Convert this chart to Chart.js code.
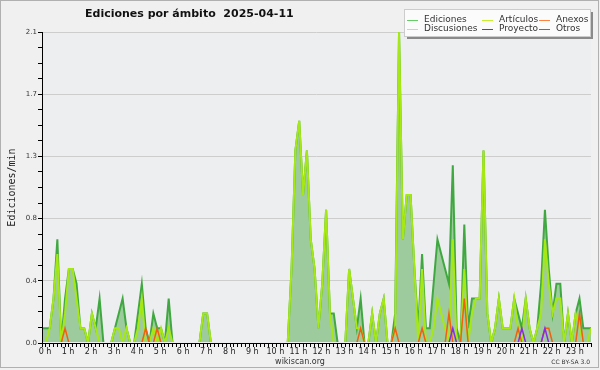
<!DOCTYPE html>
<html>
<head>
<meta charset="utf-8">
<script src="https://cdn.jsdelivr.net/npm/chart.js@4/dist/chart.umd.min.js"></script>
<style>
  html, body { margin: 0; padding: 0; background: #f0f0f0; }
  canvas { display: block; }
</style>
</head>
<body>
<canvas id="ambitoChart" width="600" height="370"></canvas>
<script>
// ediciones/min en tramos de 10 minutos, desde las 0:00
var ediciones = [
  0.1,0.1,0.1,0.3,0.7,0,0.3,0.5,0.5,0.4,0.1,0.1,
  0,0.2,0.1,0.3,0,0,0,0.1,0.2,0.3,0.1,0,
  0,0.2,0.4,0.1,0,0.2,0.1,0.1,0,0.3,0,0,
  0,0,0,0,0,0,0.2,0.2,0,0,0,0,
  0,0,0,0,0,0,0,0,0,0,0,0,
  0,0,0,0,0,0.5,1.3,1.5,1.0,1.3,0.7,0.5,
  0.1,0.4,0.9,0.2,0.2,0,0,0,0.5,0.3,0.1,0.3,
  0,0,0.2,0,0.2,0.3,0,0,0.2,2.1,0.7,1.0,
  1.0,0.5,0.1,0.6,0.1,0.1,0.4,0.7,0.6,0.5,0.4,1.2,
  0.1,0,0.8,0.1,0.3,0.3,0.3,1.3,0.2,0,0.1,0.3,
  0.1,0.1,0.1,0.3,0.2,0.1,0.3,0.1,0,0.1,0.4,0.9,
  0.5,0.2,0.4,0.4,0,0.2,0,0.2,0.3,0.1,0.1,0.1
];
var articulos = [
  0,0,0.1,0.3,0.6,0,0.2,0.5,0.5,0.3,0.1,0.1,
  0,0.2,0.1,0,0,0,0,0.1,0.1,0,0.1,0,
  0,0.1,0.3,0,0,0.1,0,0.1,0,0.1,0,0,
  0,0,0,0,0,0,0.2,0.2,0,0,0,0,
  0,0,0,0,0,0,0,0,0,0,0,0,
  0,0,0,0,0,0.5,1.3,1.5,1.0,1.3,0.7,0.5,
  0.1,0.4,0.9,0.2,0,0,0,0,0.5,0.3,0.1,0.1,
  0,0,0.2,0,0.2,0.3,0,0,0.1,2.1,0.7,1.0,
  1.0,0.5,0,0.5,0,0,0.1,0.3,0.2,0.1,0,0.7,
  0,0,0.5,0,0.2,0.3,0.3,1.3,0.2,0,0.1,0.3,
  0.1,0.1,0.1,0.3,0.1,0,0.3,0.1,0,0.1,0.2,0.7,
  0.4,0.2,0.3,0.3,0,0.2,0,0.2,0.1,0,0,0.1
];
var anexos = [
  0,0,0,0,0,0,0.1,0,0,0,0,0,
  0,0,0,0,0,0,0,0,0,0,0,0,
  0,0,0,0.1,0,0,0.1,0,0,0,0,0,
  0,0,0,0,0,0,0,0,0,0,0,0,
  0,0,0,0,0,0,0,0,0,0,0,0,
  0,0,0,0,0,0,0,0,0,0,0,0,
  0,0,0,0,0,0,0,0,0,0,0,0.1,
  0,0,0,0,0,0,0,0,0.1,0,0,0,
  0,0,0,0.1,0,0,0,0,0,0,0.2,0,
  0,0,0.3,0,0,0,0,0,0,0,0,0,
  0,0,0,0,0.1,0,0,0,0,0,0,0.1,
  0.1,0,0,0,0,0,0,0,0.2,0,0,0
];
var discusiones = [
  0,0,0,0,0,0,0,0,0,0,0,0, 0,0,0,0,0,0,0,0,0,0,0,0,
  0,0,0,0,0,0,0,0,0,0,0,0, 0,0,0,0,0,0,0,0,0,0,0,0,
  0,0,0,0,0,0,0,0,0,0,0,0, 0,0,0,0,0,0,0,0,0,0,0,0,
  0,0,0,0,0,0,0,0,0,0,0,0, 0,0,0,0,0,0,0,0,0,0,0,0,
  0,0,0,0,0,0,0,0,0,0,0,0, 0,0,0,0,0,0,0,0,0,0,0,0,
  0,0,0,0,0,0,0,0,0,0,0,0, 0,0,0,0,0,0,0,0,0,0,0,0
];
var proyecto = [
  0,0,0,0,0,0,0,0,0,0,0,0, 0,0,0,0,0,0,0,0,0,0,0,0,
  0,0,0,0,0,0,0,0,0,0,0,0, 0,0,0,0,0,0,0,0,0,0,0,0,
  0,0,0,0,0,0,0,0,0,0,0,0, 0,0,0,0,0,0,0,0,0,0,0,0,
  0,0,0,0,0,0,0,0,0,0,0,0, 0,0,0,0,0,0,0,0,0,0,0,0,
  0,0,0,0,0,0,0,0,0,0,0,0, 0,0,0,0,0,0,0,0,0,0,0,0,
  0,0,0,0,0,0,0,0,0,0,0,0, 0,0,0,0,0,0,0,0,0,0,0,0
];
var otros = [
  0,0,0,0,0,0,0,0,0,0,0,0, 0,0,0,0,0,0,0,0,0,0,0,0,
  0,0,0,0,0,0,0,0,0,0,0,0, 0,0,0,0,0,0,0,0,0,0,0,0,
  0,0,0,0,0,0,0,0,0,0,0,0, 0,0,0,0,0,0,0,0,0,0,0,0,
  0,0,0,0,0,0,0,0,0,0,0,0, 0,0,0,0,0,0,0,0,0,0,0,0,
  0,0,0,0,0,0,0,0,0,0,0,0.1, 0,0,0,0,0,0,0,0,0,0,0,0,
  0,0,0,0,0,0.1,0,0,0,0,0,0.1, 0,0,0,0,0,0,0,0,0,0,0,0
];
// minuto del día de cada tramo
var minutos = ediciones.map(function(v, i) { return i * 10; });
var yMax = 2.1;

var leyenda = [
  { label: 'Ediciones',   color: '#66cc66', x: 407, y: 19.5 },
  { label: 'Artículos',   color: '#c8ee30', x: 482, y: 19.5 },
  { label: 'Anexos',      color: '#ff8040', x: 539, y: 19.5 },
  { label: 'Discusiones', color: '#ffd040', x: 407, y: 29 },
  { label: 'Proyecto',    color: '#555555', x: 482, y: 29 },
  { label: 'Otros',       color: '#9040ff', x: 539, y: 29 }
];

// recorte: las lineas en cero quedan bajo el eje
var recorte = { left: 0, top: 2, right: 0, bottom: -1 };

var decorado = {
  id: 'decorado',
  beforeDraw: function(chart) {
    var c = chart.ctx, a = chart.chartArea;
    c.save();
    c.fillStyle = '#f0f0f0';
    c.fillRect(0, 0, chart.width, chart.height);
    c.strokeStyle = '#b0b0b0';
    c.strokeRect(0.5, 0.5, chart.width - 2, chart.height - 3);
    c.fillStyle = '#edeef0';
    c.fillRect(a.left, a.top, a.right - a.left, a.bottom - a.top);
    c.restore();
  },
  afterDatasetsDraw: function(chart) {
    var c = chart.ctx, a = chart.chartArea;
    c.save();
    c.strokeStyle = '#000';
    c.lineWidth = 1;
    c.beginPath();
    c.moveTo(Math.round(a.left) + 0.5, a.top);
    c.lineTo(Math.round(a.left) + 0.5, Math.round(a.bottom) + 0.5);
    c.lineTo(a.right, Math.round(a.bottom) + 0.5);
    c.stroke();
    c.restore();
  },
  afterDraw: function(chart) {
    var c = chart.ctx, a = chart.chartArea;
    c.save();
    // titulo
    c.fillStyle = '#111';
    c.font = 'bold 11px "DejaVu Sans"';
    c.textBaseline = 'middle';
    c.textAlign = 'left';
    c.fillText('Ediciones por ámbito  2025-04-11', 85, 14);

    // titulo eje y
    c.save();
    c.translate(12, (a.top + a.bottom) / 2);
    c.rotate(-Math.PI / 2);
    c.textAlign = 'center';
    c.font = '10px "DejaVu Sans Mono"';
    c.fillStyle = '#222';
    c.fillText('Ediciones/min', 0, 0);
    c.restore();

    // leyenda
    c.fillStyle = '#8a8a8a';
    c.fillRect(407, 12, 186, 27);
    c.fillStyle = '#fbfbfb';
    c.fillRect(404, 9, 187, 28);
    c.strokeStyle = '#cccccc';
    c.strokeRect(404.5, 9.5, 186, 27);
    c.font = '9px "DejaVu Sans"';
    c.textAlign = 'left';
    leyenda.forEach(function(it) {
      c.strokeStyle = it.color;
      c.lineWidth = 1;
      c.beginPath();
      c.moveTo(it.x, Math.round(it.y) + 0.5);
      c.lineTo(it.x + 11, Math.round(it.y) + 0.5);
      c.stroke();
      c.fillStyle = '#333';
      c.fillText(it.label, it.x + 17, it.y);
    });

    // pie
    c.fillStyle = '#333';
    c.font = '8px "DejaVu Sans"';
    c.textAlign = 'center';
    c.fillText('wikiscan.org', 300, 362);
    c.font = '6px "DejaVu Sans"';
    c.textAlign = 'right';
    c.fillText('CC BY-SA 3.0', 590, 362);
    c.restore();
  }
};

var ctx = document.getElementById('ambitoChart').getContext('2d');
var ambitoChart = new Chart(ctx, {
  type: 'line',
  data: {
    labels: minutos,
    datasets: [
      { label: 'Otros', data: otros, borderColor: '#8a2be2', borderWidth: 1.5, order: 1, clip: recorte },
      { label: 'Anexos', data: anexos, borderColor: '#f06010', borderWidth: 1.5, order: 2, clip: recorte },
      { label: 'Artículos', data: articulos, borderColor: '#a6e814', borderWidth: 2, order: 3, clip: recorte },
      { label: 'Proyecto', data: proyecto, borderColor: '#555555', borderWidth: 1, order: 4, clip: recorte },
      { label: 'Discusiones', data: discusiones, borderColor: '#ffd040', borderWidth: 1, order: 5, clip: recorte },
      { label: 'Ediciones', data: ediciones, borderColor: '#40a840', borderWidth: 2,
        fill: 'origin', backgroundColor: '#9ecb9e', order: 6, clip: recorte }
    ]
  },
  options: {
    responsive: false,
    animation: false,
    devicePixelRatio: 1,
    layout: { padding: { left: 0, top: 32, right: 9, bottom: 0 } },
    elements: { point: { radius: 0 }, line: { tension: 0 } },
    plugins: { legend: { display: false }, tooltip: { enabled: false } },
    scales: {
      x: {
        type: 'linear',
        min: 0,
        max: minutos[minutos.length - 1],
        afterBuildTicks: function(s) {
          s.ticks = minutos.map(function(m) { return { value: m }; });
        },
        afterFit: function(s) { s.height = 27; },
        border: { display: false },
        grid: { drawOnChartArea: false, tickLength: 4, tickColor: '#000' },
        ticks: {
          autoSkip: false, maxRotation: 0, minRotation: 0,
          labelOffset: 3, padding: 0, color: '#222',
          font: { family: 'DejaVu Sans', size: 8 },
          callback: function(v) { return v % 60 === 0 ? (v / 60) + ' h' : ''; }
        }
      },
      y: {
        min: 0,
        max: yMax,
        afterBuildTicks: function(s) {
          var t = [];
          for (var k = 0; k <= 20; k++) t.push({ value: k * yMax / 20 });
          s.ticks = t;
        },
        afterFit: function(s) { s.width = 42; },
        border: { display: false },
        grid: {
          color: function(c) { return (c.index % 4 === 0 && c.index > 0) ? '#cdcdcd' : 'rgba(0,0,0,0)'; },
          tickLength: 4, tickColor: '#000'
        },
        ticks: {
          padding: 1, color: '#333',
          font: { family: 'DejaVu Sans', size: 7 },
          callback: function(v, i) { return i % 4 === 0 ? v.toFixed(1) : ''; }
        }
      }
    }
  },
  plugins: [decorado]
});
</script>
</body>
</html>
